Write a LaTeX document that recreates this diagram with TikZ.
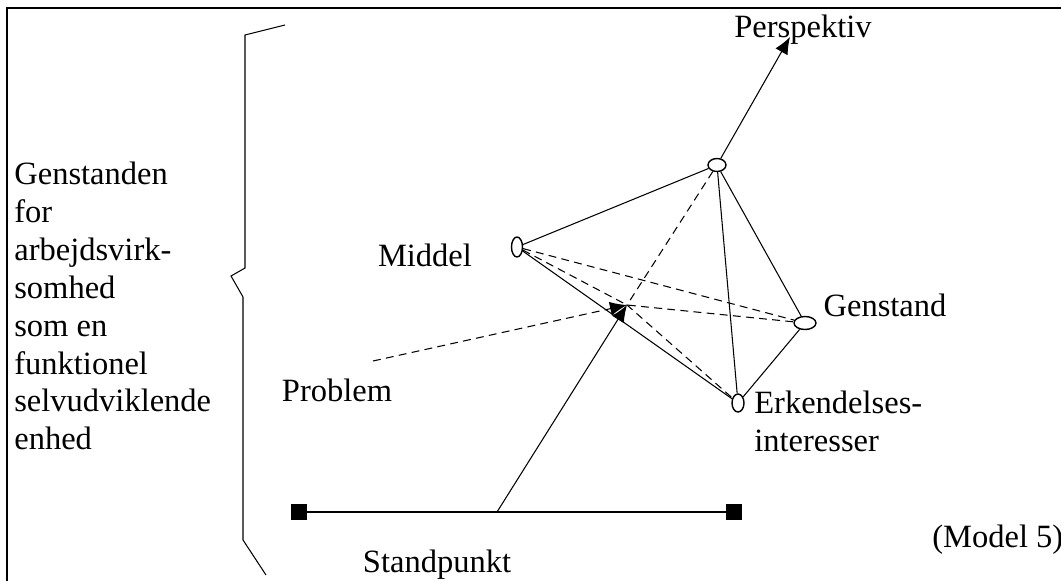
\documentclass[tikz,border=0pt]{standalone}
\usepackage{fontspec}
\setmainfont{Liberation Serif}
\usetikzlibrary{arrows.meta, shapes.geometric}

\begin{document}
\begin{tikzpicture}[
  x=0.02cm, y=-0.02cm,
  >={Latex[length=3.4mm, width=2.8mm]},
  pt/.style={ellipse, draw, thick, fill=white, inner sep=0pt},
  sq/.style={rectangle, fill=black, minimum size=3.2mm, inner sep=0pt},
  lbl/.style={font=\fontsize{18.5}{21.6}\selectfont, inner sep=0pt},
  ln/.style={draw, semithick},
  dsh/.style={draw, semithick, dash pattern=on 4.5pt off 3pt}
]
\useasboundingbox (0,0) rectangle (1061,581);

% frame and brace
\draw[line width=1.3pt] (7,581) -- (7,8) -- (1061,8);
\draw[semithick] (285,25) -- (245,35) -- (245,268) -- (231,276) -- (243,297) -- (243,540) -- (266,575);

\node[lbl, align=left, anchor=west] (gen) at (14,306)
  {Genstanden\\for\\arbejdsvirk-\\somhed\\som en\\funktionel\\selvudviklende\\enhed};

% points of the figure
\node[pt, minimum width=3.6mm, minimum height=2.6mm] (T) at (717,165) {};
\node[pt, minimum width=2.2mm, minimum height=4mm] (M) at (517,247) {};
\node[pt, minimum width=4.4mm, minimum height=2.6mm] (G) at (805,323) {};
\node[pt, minimum width=2.4mm, minimum height=3.6mm] (E) at (738,403) {};
\coordinate (S) at (627,305);
\coordinate (Pr) at (373,361);
\coordinate (Pt) at (790,37);

% labels
\node[lbl] (perslbl) at (803,30) {Perspektiv};
\node[lbl] (midlbl) at (425,255) {Middel};
\node[lbl] (genlbl) at (885,305) {Genstand};
\node[lbl] (problbl) at (337,390) {Problem};
\node[lbl, align=left, anchor=west] (erklbl) at (754,421) {Erkendelses-\\interesser};
\node[lbl] (stdlbl) at (437,565) {Standpunkt};
\node[lbl, anchor=west] (modlbl) at (932,540) {(Model 5)};

% standpunkt bar
\node[sq] (SL) at (299,512) {};
\node[sq] (SR) at (734,512) {};
\coordinate (B) at (497,512);
\draw[semithick] (SL) -- (SR);

% solid edges
\draw[ln] (M) -- (T);
\draw[ln] (M) -- (E);
\draw[ln] (T) -- (E);
\draw[ln] (T) -- (G);
\draw[ln] (G) -- (E);
\draw[ln, ->] (T) -- (Pt);
\draw[ln, ->] (B) -- (S);

% dashed edges
\draw[dsh] (M) -- (G);
\draw[dsh] (M) -- (S) -- (G);
\draw[dsh] (T) -- (S) -- (E);
\draw[dsh, ->] (Pr) -- (S);
\end{tikzpicture}
\end{document}
